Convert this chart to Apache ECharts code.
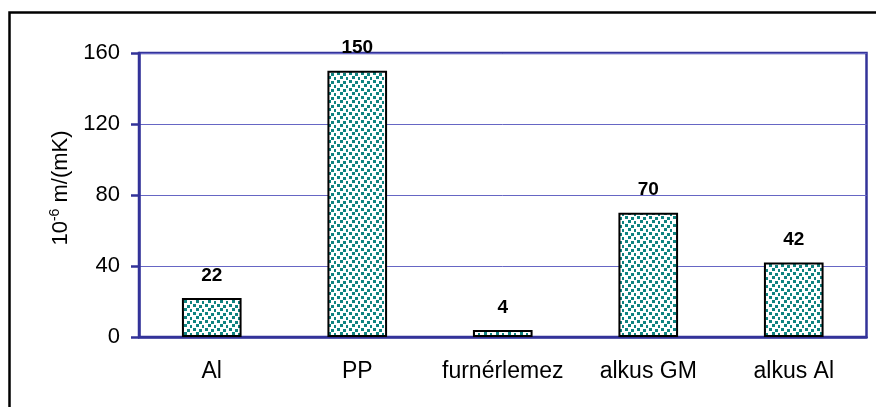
<!DOCTYPE html>
<html>
<head>
<meta charset="utf-8">
<script src="https://cdn.jsdelivr.net/npm/echarts@6/dist/echarts.min.js"></script>
<style>
html,body{margin:0;padding:0;background:#fff;}
#main{width:876px;height:407px;}
</style>
</head>
<body>
<div id="main"></div>
<script>
// anyagok es hotagulasi egyutthatok
var categories = ['Al', 'PP', 'furnérlemez', 'alkus GM', 'alkus Al'];
var values = [22, 150, 4, 70, 42];
var yTicks = [0, 40, 80, 120, 160];

// pottyos kitoltes (zold negyzetek feher alapon)
function dotPattern(){
	var c = document.createElement('canvas');
	c.width = 12; c.height = 8;
	var ctx = c.getContext('2d');
	ctx.fillStyle = '#fff';
	ctx.fillRect(0, 0, 12, 8);
	ctx.fillStyle = '#0f8380';
	var pts = [[1,0],[7,1],[4,4],[10,5]];
	for (var i = 0; i < pts.length; i++) {
		ctx.fillRect(pts[i][0], pts[i][1], 3, 3);
	}
	return c;
}

var font = 'Liberation Sans, Arial, sans-serif';
var chart = echarts.init(document.getElementById('main'));
var option = {
	backgroundColor: '#fff',
	animation: false,
	textStyle: { fontFamily: font },
	graphic: [{
		type: 'rect',
		shape: { x: 9.5, y: 12.5, width: 900, height: 430 },
		style: { fill: null, stroke: '#000', lineWidth: 2.5 },
		silent: true
	}],
	grid: {
		left: 139, right: 9.5, top: 53, bottom: 70,
		show: true, borderColor: '#333399', borderWidth: 2.5
	},
	xAxis: {
		type: 'category',
		data: categories,
		axisLine: { lineStyle: { color: '#333399', width: 2.5 } },
		axisTick: { length: 8, lineStyle: { color: '#333399', width: 2.5 } },
		axisLabel: { color: '#000', fontSize: 23, margin: 23, interval: 0 }
	},
	yAxis: {
		type: 'value',
		min: yTicks[0], max: yTicks[yTicks.length - 1], interval: 40,
		name: '{a|10}{b|-6}{a| m/(mK)}',
		nameLocation: 'middle',
		nameGap: 64,
		nameRotate: 90,
		nameTextStyle: {
			padding: [0, 0, 0, 14],
			rich: {
				a: { fontSize: 22, color: '#000', fontFamily: font },
				b: { fontSize: 14, color: '#000', padding: [0, 0, 12, 0], fontFamily: font }
			}
		},
		axisLine: { show: true, lineStyle: { color: '#333399', width: 2.5 } },
		axisTick: { show: true, length: 8, lineStyle: { color: '#333399', width: 2.5 } },
		axisLabel: { color: '#000', fontSize: 22, margin: 19 },
		splitLine: { lineStyle: { color: '#6666c4', width: 1 } }
	},
	series: [{
		type: 'bar',
		data: values,
		barWidth: '41%',
		itemStyle: {
			color: { image: dotPattern(), repeat: 'repeat' },
			borderColor: '#000',
			borderWidth: 2
		},
		label: {
			show: true,
			position: 'top',
			distance: 13,
			color: '#000',
			fontWeight: 'bold',
			fontSize: 19
		}
	}]
};
chart.setOption(option);
</script>
</body>
</html>
